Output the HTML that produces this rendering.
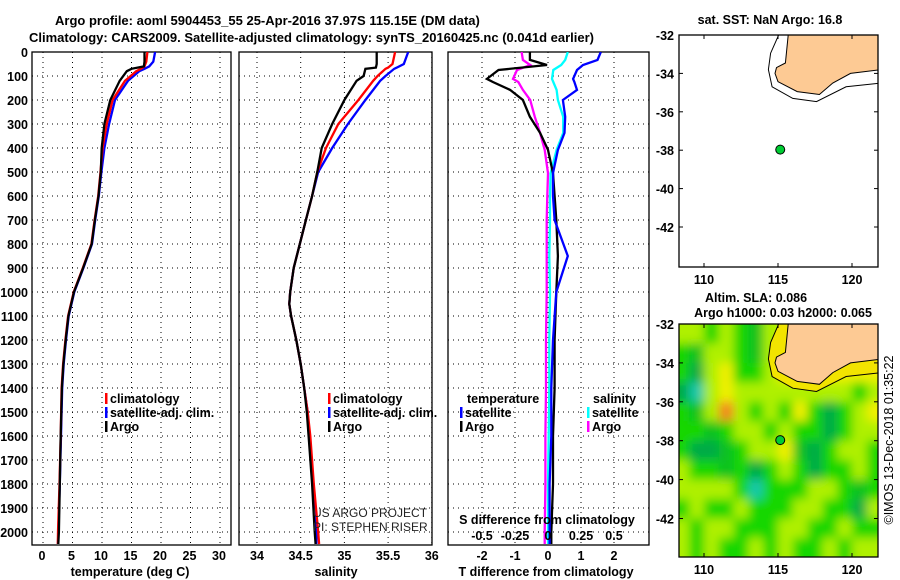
<!DOCTYPE html>
<html><head><meta charset="utf-8">
<style>
html,body{margin:0;padding:0;background:#fff;}
svg{display:block;font-family:"Liberation Sans",sans-serif;}
.t{font-weight:bold;font-size:13px;fill:#000;}
.tk{font-weight:bold;font-size:12.5px;fill:#000;}
</style></head>
<body>
<svg id="fig" width="900" height="580" viewBox="0 0 900 580" xmlns="http://www.w3.org/2000/svg">
<defs>
<clipPath id="cp1"><rect x="32" y="52" width="199" height="493"/></clipPath>
<clipPath id="cp2"><rect x="239" y="52" width="193" height="493"/></clipPath>
<clipPath id="cp3"><rect x="448" y="52" width="201" height="493"/></clipPath>
<clipPath id="cpm1"><rect x="679" y="35" width="199" height="232"/></clipPath>
<clipPath id="cpm2"><rect x="679" y="324" width="199" height="233"/></clipPath>
<filter id="blur" filterUnits="userSpaceOnUse" x="640" y="280" width="300" height="320"><feGaussianBlur stdDeviation="5"/></filter>
</defs>
<text class="t" x="55" y="25">Argo profile: aoml 5904453_55 25-Apr-2016 37.97S 115.15E (DM data)</text>
<text class="t" x="29" y="42">Climatology: CARS2009. Satellite-adjusted climatology: synTS_20160425.nc (0.041d earlier)</text>
<g id="grid"></g>
<g id="series"></g>
<g id="maps"></g>
<g id="labels"></g>
</svg>
<script>
// ---------- profile data ----------
const depthT = [0, 40, 60, 70, 80, 120, 200, 300, 400, 500, 600, 700, 800, 900, 1000, 1100, 1200, 1300, 1400, 1600, 1800, 2000, 2050];
const tempArgo = [17.2, 17.2, 17.1, 15.0, 14.2, 13.0, 11.4, 10.4, 9.95, 9.8, 9.4, 8.8, 8.25, 6.8, 5.25, 4.3, 3.85, 3.45, 3.2, 3.0, 2.85, 2.7, 2.6];
const tempClim = [17.7, 17.5, 17.2, 16.6, 15.8, 13.9, 11.8, 10.8, 10.1, 9.75, 9.35, 8.75, 8.2, 6.75, 5.2, 4.25, 3.8, 3.4, 3.15, 3.0, 2.8, 2.55, 2.5];
const tempSat = [19.0, 18.7, 18.0, 17.2, 16.3, 14.4, 12.2, 11.2, 10.4, 9.9, 9.45, 8.85, 8.3, 6.85, 5.3, 4.35, 3.9, 3.5, 3.25, 3.05, 2.85, 2.6, 2.55];
const depthS = [0, 50, 65, 70, 100, 120, 200, 300, 400, 500, 600, 700, 800, 900, 1000, 1050, 1100, 1200, 1300, 1400, 1500, 1600, 1800, 2000, 2050];
const salArgo = [35.37, 35.37, 35.36, 35.24, 35.22, 35.14, 35.0, 34.86, 34.74, 34.69, 34.63, 34.56, 34.49, 34.42, 34.38, 34.37, 34.39, 34.45, 34.5, 34.54, 34.57, 34.59, 34.63, 34.66, 34.67];
const salClim = [35.58, 35.55, 35.5, 35.47, 35.38, 35.33, 35.16, 34.93, 34.79, 34.69, 34.63, 34.56, 34.49, 34.42, 34.38, 34.37, 34.39, 34.45, 34.5, 34.54, 34.58, 34.61, 34.65, 34.7, 34.71];
const salSat = [35.73, 35.68, 35.6, 35.57, 35.47, 35.41, 35.24, 35.04, 34.86, 34.7, 34.63, 34.56, 34.49, 34.42, 34.38, 34.37, 34.39, 34.45, 34.5, 34.54, 34.58, 34.6, 34.64, 34.68, 34.68];
const depthD = [0, 33, 54, 75, 112, 125, 158, 200, 270, 337, 408, 505, 600, 700, 850, 1000, 1200, 1400, 1600, 1800, 2000, 2050];
const tdiffArgo = [-0.55, -0.55, -0.03, -1.5, -1.85, -1.67, -1.15, -0.76, -0.55, -0.24, 0.0, 0.15, 0.2, 0.25, 0.3, 0.25, 0.2, 0.2, 0.15, 0.15, 0.1, 0.1];
const tdiffSat = [1.6, 1.5, 1.06, 0.88, 0.76, 0.8, 0.88, 0.45, 0.52, 0.5, 0.3, 0.15, 0.15, 0.2, 0.6, 0.25, 0.15, 0.1, 0.1, 0.05, 0.05, 0.05];
const sdiffSat = [0.15, 0.13, 0.1, 0.04, 0.03, 0.04, 0.065, 0.075, 0.115, 0.115, 0.065, 0.02, 0.015, 0.015, 0.01, 0.015, 0.01, 0.01, 0.005, 0.0, 0.0, 0.0];
const sdiffArgo = [-0.2, -0.19, -0.135, -0.235, -0.265, -0.225, -0.19, -0.135, -0.1, -0.06, -0.025, 0.0, -0.005, -0.01, -0.01, -0.01, -0.015, -0.015, -0.02, -0.02, -0.025, -0.025];
const depthTicks = [0,100,200,300,400,500,600,700,800,900,1000,1100,1200,1300,1400,1500,1600,1700,1800,1900,2000];
const tempTicks = [0,5,10,15,20,25,30];
const salTicks = ["34","34.5","35","35.5","36"];
const tdTicks = [-2,-1,0,1,2];
const sdTicks = ["-0.5","-0.25","0","0.25","0.5"];
// map data
const latTicks = [-32,-34,-36,-38,-40,-42];
const lonTicks = [110,115,120];
const floatLon = 115.15, floatLat = -37.97;
const slaLons = [107.5,108.5,109.5,110.5,111.5,112.5,113.5,114.5,115.5,116.5,117.5,118.5,119.5,120.5,121.5,122.5];
const slaLats = [-31.5,-32.5,-33.5,-34.5,-35.5,-36.5,-37.5,-38.5,-39.5,-40.5,-41.5,-42.5,-43.5,-44.5];
const slaGrid = [
 [1, 1, 1, 0, 1, 0,-0.5, 1, 1, 2, 2, 2, 2, 2, 2, 2],
 [1, 1, 1, 0, 1, 0,-0.5, 1, 1, 2, 2, 2, 2, 2, 2, 2],
 [0, 0,-0.5,1, 1, 0,-0.5, 1, 1, 2, 2, 2, 2, 2, 2, 2],
 [0, 0,-1, 1, 2, 0, 0, 1, 2, 2, 2, 2, 2, 2, 2, 2],
 [-1,-1,-2,1, 2, 1, 1, 1, 1, 1, 1, 1, 1, 0, 1, 1],
 [0, 0,-0.5,1,3, 1, 0, 1, 0, 2, 0,-1, 0, 1, 2, 2],
 [0, 0, 0,-0.5,0,1, 1, 0, 1, 0, 0,-1, 0, 1, 1, 1],
 [0, 0,-1,-1,-0.5,0,1, 1, 2,-0.5,-1,0, 1, 1, 0, 0],
 [1, 1, 0, 0,-0.5,0,-1, 0, 1, 0,-1, 0, 0, 1, 0, 0],
 [1, 1, 1, 1, 1, 0,-2, 0, 0, 0, 1, 1, 0,-0.5,0, 0],
 [0, 0, 1, 0, 0, 1, 0, 0, 0, 1, 1, 0, 0,-1, 1, 1],
 [1, 1, 0, 1, 1, 0, 0, 0, 1, 1, 0, 0, 1, 0, 0, 0],
 [1, 1, 0, 1, 0, 0, 1, 0, 1, 0, 0, 1, 0, 1, 1, 1],
 [1, 1, 0, 1, 0, 0, 1, 0, 1, 0, 0, 1, 0, 1, 1, 1]];
const coastLon = [115.7,115.5,114.9,114.8,115.0,116.3,117.8,118.7,119.9,122.0];
const coastLat = [-31.9,-33.46,-33.7,-34.0,-34.43,-34.95,-35.1,-34.5,-34.0,-33.8];
const isoLon = [115.1,114.5,114.35,114.6,116.0,117.6,119.6,122.0];
const isoLat = [-31.9,-32.95,-33.8,-34.7,-35.3,-35.47,-34.7,-34.5];

const NS = "http://www.w3.org/2000/svg";
function mk(tag, attrs, parent, txt){ const e=document.createElementNS(NS,tag); for(const k in attrs) e.setAttribute(k,attrs[k]); if(txt!==undefined) e.textContent=txt; parent.appendChild(e); return e; }
const G = document.getElementById('grid'), S = document.getElementById('series'), M = document.getElementById('maps'), L = document.getElementById('labels');

const yD = d => 52 + d*0.24;
const xT = v => 43 + v*5.9;
const xS = v => 257 + (v-34)*87.4;
const xTD = v => 548 + v*33;
const xSD = v => 548 + v*132;
const panels = [[32,199],[239,193],[448,201]];

panels.forEach((p,i)=>{
  depthTicks.forEach(d=>{ if(d>0){ const l=mk('line',{x1:p[0],x2:p[0]+p[1],y1:yD(d),y2:yD(d),stroke:'#000','stroke-width':1,'stroke-dasharray':'1,4'},G);   }});
});
tempTicks.forEach(v=>{ const l=mk('line',{x1:xT(v),x2:xT(v),y1:52,y2:545,stroke:'#000','stroke-dasharray':'1,4'},G);  
  const t=mk('text',{class:'tk',x:xT(v)-1,y:560,'text-anchor':'middle'},L,String(v));  });
salTicks.forEach(v=>{ const x=xS(parseFloat(v)); const l=mk('line',{x1:x,x2:x,y1:52,y2:545,stroke:'#000','stroke-dasharray':'1,4'},G);  
  const t=mk('text',{class:'tk',x:x,y:560,'text-anchor':'middle'},L,v);  });
tdTicks.forEach(v=>{ const l=mk('line',{x1:xTD(v),x2:xTD(v),y1:52,y2:545,stroke:'#000','stroke-dasharray':'1,4'},G);  
  const t=mk('text',{class:'tk',x:xTD(v),y:560,'text-anchor':'middle'},L,String(v));  });
sdTicks.forEach(v=>{ const t=mk('text',{class:'tk',x:xSD(parseFloat(v)),y:540,'text-anchor':'middle'},L,v);  });
depthTicks.forEach(d=>{ const t=mk('text',{class:'tk',x:28,y:yD(d)+5,'text-anchor':'end'},L,String(d));  });
panels.forEach(p=>{ const r=mk('rect',{x:p[0],y:52,width:p[1],height:493,fill:'none',stroke:'#000','stroke-width':1.3},G);  });

function line(xs, ds, xf, color, clip, name){
  const pts = xs.map((v,i)=>xf(v).toFixed(1)+','+yD(ds[i]).toFixed(1)).join(' ');
  const pl = mk('polyline',{points:pts,fill:'none',stroke:color,'stroke-width':2.3,'clip-path':'url(#'+clip+')','stroke-linejoin':'miter'},S);
  
  
}
line(tempSat, depthT, xT, '#0000ff','cp1','temp-satellite-line');
line(tempClim, depthT, xT, '#ff0000','cp1','temp-climatology-line');
line(tempArgo, depthT, xT, '#000000','cp1','temp-argo-line');
line(salSat, depthS, xS, '#0000ff','cp2','salinity-satellite-line');
line(salClim, depthS, xS, '#ff0000','cp2','salinity-climatology-line');
line(salArgo, depthS, xS, '#000000','cp2','salinity-argo-line');
line(sdiffArgo, depthD, xSD, '#ff00ff','cp3','sdiff-argo-line');
line(sdiffSat, depthD, xSD, '#00ffff','cp3','sdiff-satellite-line');
line(tdiffArgo, depthD, xTD, '#000000','cp3','tdiff-argo-line');
line(tdiffSat, depthD, xTD, '#0000ff','cp3','tdiff-satellite-line');

function leg(x,y,color,label,name){
  if(color){ const b=mk('rect',{x:x,y:y-10,width:2.5,height:11,fill:color},L);   }
  const t=mk('text',{class:'tk',x:x+5,y:y},L,label);  
}
[[105,'#ff0000','climatology'],[105,'#0000ff','satellite-adj. clim.'],[105,'#000000','Argo']].forEach((e,i)=>leg(e[0],403+i*14,e[1],e[2],'temp-legend-entry'));
[[328,'#ff0000','climatology'],[328,'#0000ff','satellite-adj. clim.'],[328,'#000000','Argo']].forEach((e,i)=>leg(e[0],403+i*14,e[1],e[2],'salinity-legend-entry'));
leg(462,403,null,'temperature','diff-legend-temperature-header');
leg(460,417,'#0000ff','satellite','diff-legend-temp-satellite');
leg(460,431,'#000000','Argo','diff-legend-temp-argo');
leg(588,403,null,'salinity','diff-legend-salinity-header');
leg(587,417,'#00ffff','satellite','diff-legend-sal-satellite');
leg(587,431,'#ff00ff','Argo','diff-legend-sal-argo');

[[130,576,'temperature (deg C)','temp-axis-title'],[336,576,'salinity','salinity-axis-title'],[546,576,'T difference from climatology','tdiff-axis-title'],[547,524,'S difference from climatology','sdiff-axis-title']].forEach(a=>{
  const t=mk('text',{class:'tk',x:a[0],y:a[1],'text-anchor':'middle','font-size':13},L,a[2]);  });
[[313,517,'US ARGO PROJECT','project-credit'],[313,531,'PI: STEPHEN RISER','pi-credit']].forEach(a=>{
  const t=mk('text',{x:a[0],y:a[1],'font-size':12,fill:'#222'},L,a[2]);  });

// ---------- maps ----------
const xL = lon => 704 + (lon-110)*14.8;
const maps = [{top:35,h:232,py:19.2,clip:'cpm1'},{top:324,h:233,py:19.45,clip:'cpm2'}];
function yL(m,lat){ return m.top + (-32-lat)*m.py; }
function pathFrom(m, lons, lats){ return lons.map((v,i)=>xL(v).toFixed(1)+','+yL(m,lats[i]).toFixed(1)).join(' '); }
maps.forEach((m,mi)=>{
  const g = mk('g',{'clip-path':'url(#'+m.clip+')'},M);
  
  
  if(mi===1){
    mk('rect',{x:679,y:m.top,width:199,height:m.h,fill:'#60dc00'},g);
    const hg = mk('g',{filter:'url(#blur)'},g);
    const stops=[[-2,[20,200,170]],[-1,[0,170,70]],[0,[20,215,0]],[1,[175,240,0]],[2,[240,240,0]],[3,[245,130,30]]];
    const col=v=>{ for(let k=0;k<stops.length-1;k++){ if(v<=stops[k+1][0]){ const f=(v-stops[k][0])/(stops[k+1][0]-stops[k][0]); const a=stops[k][1],b=stops[k+1][1]; return 'rgb('+a.map((c,j)=>Math.round(c+(b[j]-c)*f)).join(',')+')'; } } return 'rgb(245,130,30)'; };
    slaGrid.forEach((row,r)=>row.forEach((v,c)=>{
      const cell=mk('rect',{x:xL(slaLons[c]-0.5),y:yL(m,slaLats[r]+0.5),width:15.3,height:m.py+0.5,fill:col(v)},hg);
      
      
    }));
    const shelf=mk('polygon',{points:pathFrom(m,isoLon.concat([122,115]),isoLat.concat([-31,-31])),fill:'#f2e400'},g);
    
    
  }
  const iso=mk('polyline',{points:pathFrom(m,isoLon,isoLat),fill:'none',stroke:'#000','stroke-width':1},g);
  
  
  const land=mk('polygon',{points:pathFrom(m,coastLon.concat([122]),coastLat.concat([-31.9])),fill:'#fdca94',stroke:'#000','stroke-width':1},g);
  
  
  const dot=mk('circle',{cx:xL(floatLon),cy:yL(m,floatLat),r:4.5,fill:'#00cc33',stroke:'#000','stroke-width':1},g);
  
  
  const fr=mk('rect',{x:679,y:m.top,width:199,height:m.h,fill:'none',stroke:'#000','stroke-width':1.3},M);
  
  
  latTicks.forEach(lat=>{ const t=mk('text',{class:'tk',x:674,y:yL(m,lat)+5,'text-anchor':'end'},L,String(lat));  
    mk('line',{x1:679,x2:683,y1:yL(m,lat),y2:yL(m,lat),stroke:'#000'},M); mk('line',{x1:874,x2:878,y1:yL(m,lat),y2:yL(m,lat),stroke:'#000'},M);});
  lonTicks.forEach(lon=>{ const t=mk('text',{class:'tk',x:xL(lon),y:m.top+m.h+17,'text-anchor':'middle'},L,String(lon));  
    mk('line',{x1:xL(lon),x2:xL(lon),y1:m.top+m.h-4,y2:m.top+m.h,stroke:'#000'},M); mk('line',{x1:xL(lon),x2:xL(lon),y1:m.top,y2:m.top+4,stroke:'#000'},M);});
});
[[770,24,'sat. SST: NaN Argo: 16.8','sst-map-title'],[756,302,'Altim. SLA: 0.086','sla-map-title'],[783,317,'Argo h1000: 0.03 h2000: 0.065','steric-height-title']].forEach(a=>{
  const t=mk('text',{class:'tk',x:a[0],y:a[1],'text-anchor':'middle'},L,a[2]);  });
const cr=mk('text',{x:0,y:0,'font-size':12.5,fill:'#000',transform:'translate(893,440) rotate(-90)','text-anchor':'middle'},L,'©IMOS 13-Dec-2018 01:35:22');


</script>
</body></html>
